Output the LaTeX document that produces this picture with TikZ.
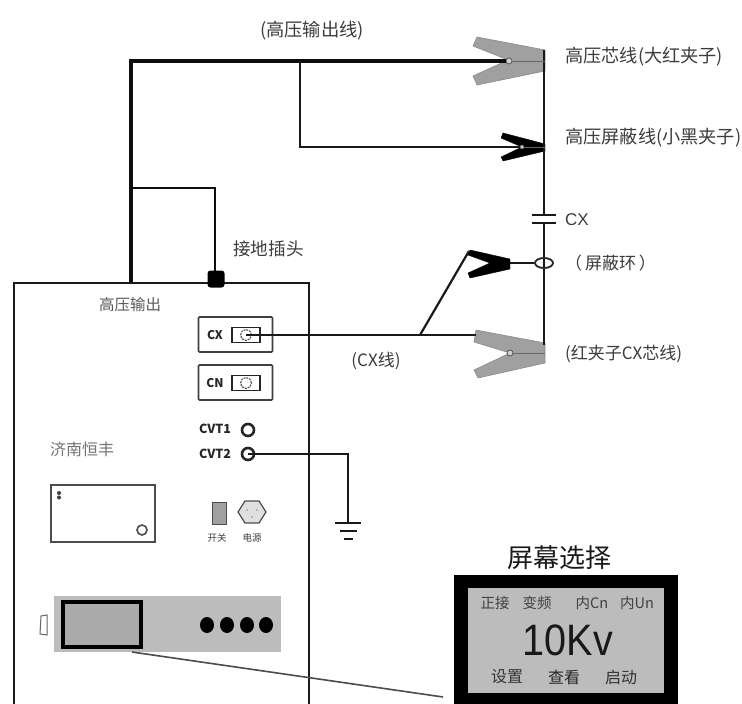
\documentclass[tikz,border=0pt]{standalone}
\usepackage{fontspec}
\setmainfont{Noto Sans CJK SC}
\newfontfamily\latinf{Liberation Sans}
\usetikzlibrary{shapes.geometric}
\definecolor{clampgray}{HTML}{A0A0A0}
\definecolor{panelgray}{HTML}{BCBCBC}
\definecolor{txt}{HTML}{3C3C3C}
\tikzset{
  lbl/.style={font=\fontsize{#1}{#1}\selectfont,inner sep=0pt,text=txt},
  lblL/.style={lbl=#1,anchor=west},
  thickwire/.style={line width=4pt,black!95,line join=miter},
  wire/.style={line width=2.2pt,black!90,line join=miter},
  grayclamp/.style={fill=clampgray,draw=black!45,line width=.6pt},
  blackclamp/.style={fill=black,draw=black,line width=.4pt,line join=round},
  pin/.style={circle,draw=black!70,fill=clampgray!50,line width=.7pt,minimum size=6pt,inner sep=0pt},
  portbox/.style={draw=black!75,line width=1.6pt,rounded corners=1pt},
  port/.style={circle,draw=black!85,line width=2.6pt,minimum size=12pt,inner sep=0pt},
  bold/.style={font=\fontsize{#1}{#1}\selectfont\bfseries,inner sep=0pt,text=black!85},
}
\begin{document}
\begin{tikzpicture}[x=1pt,y=-1pt]
\useasboundingbox (0,0) rectangle (742,704);
\fill[white] (0,0) rectangle (742,704);

% coordinates
\coordinate (topL) at (131,61);
\coordinate (topB) at (300,61);
\coordinate (hvOut) at (131,283);
\coordinate (gndTurnA) at (131,188);
\coordinate (gndTurnB) at (215,188);
\coordinate (shTurn) at (300,147);
\coordinate (wireTop) at (544,50);
\coordinate (capTop) at (544,216);
\coordinate (capBot) at (544,223);
\coordinate (wireBot) at (544,345);
\coordinate (cxFork) at (420,335);
\coordinate (cxEnd) at (476,335);
\coordinate (ringClampEnd) at (469,251);
\coordinate (cvtTurn) at (348,454);
\coordinate (gndTop) at (348,523);
\coordinate (leadA) at (132,652);
\coordinate (leadB) at (443,697);

% instrument box
\draw[line width=2.4pt,black!90] (14,704) -- (14,283) -- (309,283) -- (309,704);

% clamps
\draw[grayclamp] (545,50) -- (477,37) -- (473,46) -- (508,60) -- (473,76) -- (477,85) -- (545,71) -- cycle;
\draw[grayclamp] (545,343) -- (476,330) -- (474,342) -- (510,353) -- (474,370) -- (478,378) -- (545,363) -- cycle;
\draw[blackclamp] (545,144) -- (503,133) -- (501,138) -- (522,147) -- (501,157) -- (503,161) -- (545,151) -- cycle;
\draw[blackclamp] (510,259) -- (470,250) -- (468,255) -- (490,263) -- (468,273) -- (470,278) -- (510,269) -- cycle;

% vertical test-object wire with capacitor
\draw[wire] (wireTop) -- (capTop);
\draw[wire] (capBot) -- (wireBot);
\draw[wire] (532,215) -- (556,215);
\draw[wire] (532,223) -- (556,223);
\node[draw=black!85,fill=none,ellipse,line width=1.8pt,minimum width=18pt,minimum height=10pt,inner sep=0pt] (ring) at (544,263) {};

% pins
\node[pin] (pinA) at (509,61) {};
\node[pin,minimum size=4pt] (pinB) at (522,147) {};
\node[pin] (pinD) at (510,353) {};
\coordinate (pinC) at (510,263);

% wires
\draw[thickwire] (hvOut) -- (topL) -- (pinA.west);
\draw[line width=.9pt,black!60] (pinA.east) -- (545,61);
\draw[thickwire,line width=2.8pt] (gndTurnA) -- (gndTurnB) -- (215,275);
\draw[wire] (topB) -- (shTurn) -- (pinB.west);
\draw[wire,black!60,line width=1pt] (pinB.east) -- (545,147);
\draw[wire,line width=1.6pt] (pinC) -- (ring.west);
\draw[line width=.9pt,black!60] (pinD.east) -- (545,353);

% ground plug
\node[fill=black,rounded corners=3pt,minimum size=17pt,inner sep=0pt] (plug) at (216,279) {};

% CX / CN
\node[portbox,minimum width=74pt,minimum height=35pt,inner sep=0pt] (cxbox) at (235.5,334.5) {};
\node[portbox,minimum width=74pt,minimum height=35pt,inner sep=0pt] (cnbox) at (235.5,382.5) {};
\node[bold=12,anchor=center] at (215,335) {CX};
\node[bold=12,anchor=center] at (215,383) {CN};
\node[draw=black!85,line width=1.3pt,minimum width=28pt,minimum height=15pt,inner sep=0pt] (cxsock) at (246,335) {};
\node[draw=black!85,line width=1.3pt,minimum width=28pt,minimum height=15pt,inner sep=0pt] (cnsock) at (246,383) {};
\node[circle,draw=black!70,dashed,dash pattern=on 2pt off 1pt,line width=1.1pt,minimum size=11pt,inner sep=0pt] at (cxsock) {};
\node[circle,draw=black!70,dashed,dash pattern=on 2pt off 1pt,line width=1.1pt,minimum size=11pt,inner sep=0pt] at (cnsock) {};
\draw[wire] (cxsock.center) -- (cxFork) -- (cxEnd);
\draw[wire] (cxFork) -- (ringClampEnd);

% CVT ports
\node[bold=12.5,anchor=west] at (199,429) {CVT1};
\node[bold=12.5,anchor=west] at (199,454) {CVT2};
\node[port] (cvt1) at (248,430) {};
\node[port] (cvt2) at (248,454) {};
\draw[wire] (cvt2.center) -- (cvtTurn) -- (gndTop);
\draw[wire] (335,523) -- (361,523);
\draw[wire] (340,531) -- (357,531);
\draw[wire] (344,539) -- (353,539);

% front panel details
\node[draw=black!70,line width=1.8pt,anchor=north west,minimum width=104pt,minimum height=57pt,inner sep=0pt] (paper) at (50,484) {};
\fill[black!75] (59,493) circle (2pt) (59,497.5) circle (2pt);
\node[circle,draw=black!70,line width=1.6pt,minimum size=10pt,inner sep=0pt] (printerbtn) at (142,530) {};
\node[draw=black!70,fill=clampgray,line width=1.2pt,anchor=north west,minimum width=14pt,minimum height=22pt,inner sep=0pt] (switch) at (212,502) {};
\draw[black!70,fill=black!12,line width=1.2pt] (238,512) -- (245,501) -- (259,501) -- (266,512) -- (259,523) -- (245,523) -- cycle;
\fill[black!45] (247,510) circle (.9pt) (257,510) circle (.9pt) (252,517) circle (.9pt);
\node[lbl=9.5] at (217,538) {开关};
\node[lbl=9.5] at (252,538) {电源};

% display strip
\fill[panelgray] (54,596) rectangle (281,652);
\draw[line width=4.5pt,black,fill=clampgray!90!white] (63,602) rectangle (141,647);
\foreach \cx in {207,227,247,266} \fill[black] (\cx,625) ellipse (7pt and 8pt);
\draw[line width=1pt,black!60] (47,615) -- (41,616) -- (40,634) -- (47,635) -- cycle;
\draw[line width=1.6pt,black!70] (leadA) -- (leadB);

% screen
\fill[black] (454,575) rectangle (678,704);
\fill[panelgray] (468,588) rectangle (664,693);
\node[lbl=26,text=black!90] (title) at (559,558) {屏幕选择};
\node[lbl=14.5,text=black!75] at (495,603) {正接};
\node[lbl=14.5,text=black!75] at (537,603) {变频};
\node[lbl=14.5,text=black!75] at (592,603) {内Cn};
\node[lbl=14.5,text=black!75] at (637,603) {内Un};
\node[lbl=44,text=black!90] at (568,640) {\fontsize{44}{44}\latinf\selectfont\addfontfeature{FakeStretch=.9}10Kv};
\node[lbl=16,text=black!80] at (507,677) {设置};
\node[lbl=16,text=black!85] at (564,677) {查看};
\node[lbl=16,text=black!80] at (621,677) {启动};

% labels
\node[lbl=18.3] at (312,31) {(高压输出线)};
\node[lblL=18.2] at (565,57) {高压芯线(大红夹子)};
\node[lblL=18.2] at (565,138) {高压屏蔽线(小黑夹子)};
\node[lblL=17] at (565,220) {\latinf CX};
\node[lblL=17] at (565,263) {（\,屏蔽环\,）};
\node[lblL=17] at (565,354) {(红夹子CX芯线)};
\node[lbl=17] at (376,361) {(CX线)};
\node[lbl=17.6] at (268.5,249) {接地插头};
\node[lbl=15.5,text=black!65] at (130,305) {高压输出};
\node[lbl=16,text=black!55] at (82,449) {济南恒丰};
\end{tikzpicture}
\end{document}
